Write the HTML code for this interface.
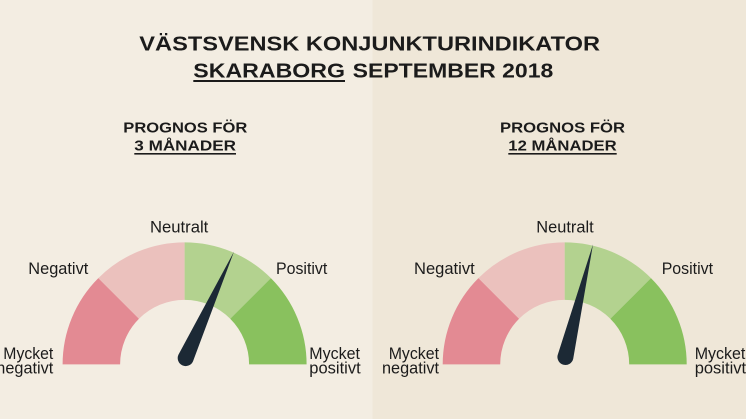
<!DOCTYPE html>
<html>
<head>
<meta charset="utf-8">
<style>
html,body{margin:0;padding:0;width:746px;height:419px;overflow:hidden;background:#f3ede2;}
svg{display:block;}
text{font-family:"Liberation Sans",sans-serif;fill:#1b1b1b;}
.b{font-weight:bold;}
</style>
</head>
<body>
<svg width="746" height="419" viewBox="0 0 746 419" xmlns="http://www.w3.org/2000/svg">
  <rect x="0" y="0" width="372.5" height="419" fill="#f3ede2"/>
  <rect x="372.5" y="0" width="373.5" height="419" fill="#efe7d8"/>

  <!-- Title -->
  <text class="b" x="139.3" y="50.7" font-size="20" textLength="460.7" lengthAdjust="spacingAndGlyphs">VÄSTSVENSK KONJUNKTURINDIKATOR</text>
  <text class="b" x="193.3" y="77.7" font-size="20" textLength="151.7" lengthAdjust="spacingAndGlyphs">SKARABORG</text>
  <rect x="193.3" y="80" width="151.7" height="2" fill="#1b1b1b"/>
  <text class="b" x="352.7" y="77.7" font-size="20" textLength="200.6" lengthAdjust="spacingAndGlyphs">SEPTEMBER 2018</text>

  <!-- Subtitles -->
  <text class="b" x="123.3" y="132.3" font-size="14.5" textLength="124" lengthAdjust="spacingAndGlyphs">PROGNOS FÖR</text>
  <text class="b" x="134.3" y="150.7" font-size="14.5" textLength="101.7" lengthAdjust="spacingAndGlyphs">3 MÅNADER</text>
  <rect x="134.3" y="153" width="101.7" height="1.6" fill="#1b1b1b"/>

  <text class="b" x="500" y="132.3" font-size="14.5" textLength="125" lengthAdjust="spacingAndGlyphs">PROGNOS FÖR</text>
  <text class="b" x="508.3" y="150.7" font-size="14.5" textLength="108.4" lengthAdjust="spacingAndGlyphs">12 MÅNADER</text>
  <rect x="508.3" y="153" width="108.4" height="1.6" fill="#1b1b1b"/>

  <!-- Left gauge -->
  <g transform="translate(184.6,364.4)">
    <path d="M-122,0 A122,122 0 0 1 -86.27,-86.27 L-45.61,-45.61 A64.5,64.5 0 0 0 -64.5,0 Z" fill="#e38a93"/>
    <path d="M-86.27,-86.27 A122,122 0 0 1 0,-122 L0,-64.5 A64.5,64.5 0 0 0 -45.61,-45.61 Z" fill="#ebc1bd"/>
    <path d="M0,-122 A122,122 0 0 1 86.27,-86.27 L45.61,-45.61 A64.5,64.5 0 0 0 0,-64.5 Z" fill="#b3d28f"/>
    <path d="M86.27,-86.27 A122,122 0 0 1 122,0 L64.5,0 A64.5,64.5 0 0 0 45.61,-45.61 Z" fill="#89c15e"/>
  </g>
  <g transform="translate(185.5,358.5) rotate(24.4)">
    <path d="M-8,-0.5 L0,-117.3 L8,-0.5 A8,8 0 0 1 -8,-0.5 Z" fill="#1c2935"/>
  </g>

  <text x="150" y="232.3" font-size="17" textLength="58.3" lengthAdjust="spacingAndGlyphs">Neutralt</text>
  <text x="28.3" y="274" font-size="17" textLength="60" lengthAdjust="spacingAndGlyphs">Negativt</text>
  <text x="276" y="274" font-size="17" textLength="51.3" lengthAdjust="spacingAndGlyphs">Positivt</text>
  <text x="3.3" y="359" font-size="17" textLength="50" lengthAdjust="spacingAndGlyphs">Mycket</text>
  <text x="-3.7" y="373.3" font-size="17" textLength="57" lengthAdjust="spacingAndGlyphs">negativt</text>
  <text x="309.3" y="359" font-size="17" textLength="50.7" lengthAdjust="spacingAndGlyphs">Mycket</text>
  <text x="309.3" y="373.3" font-size="17" textLength="51.4" lengthAdjust="spacingAndGlyphs">positivt</text>

  <!-- Right gauge -->
  <g transform="translate(564.7,364.4)">
    <path d="M-122,0 A122,122 0 0 1 -86.27,-86.27 L-45.61,-45.61 A64.5,64.5 0 0 0 -64.5,0 Z" fill="#e38a93"/>
    <path d="M-86.27,-86.27 A122,122 0 0 1 0,-122 L0,-64.5 A64.5,64.5 0 0 0 -45.61,-45.61 Z" fill="#ebc1bd"/>
    <path d="M0,-122 A122,122 0 0 1 86.27,-86.27 L45.61,-45.61 A64.5,64.5 0 0 0 0,-64.5 Z" fill="#b3d28f"/>
    <path d="M86.27,-86.27 A122,122 0 0 1 122,0 L64.5,0 A64.5,64.5 0 0 0 45.61,-45.61 Z" fill="#89c15e"/>
  </g>
  <g transform="translate(565.3,357.5) rotate(13.75)">
    <path d="M-8,-0.5 L0,-116.5 L8,-0.5 A8,8 0 0 1 -8,-0.5 Z" fill="#1c2935"/>
  </g>

  <text x="536.3" y="232.3" font-size="17" textLength="57.4" lengthAdjust="spacingAndGlyphs">Neutralt</text>
  <text x="414" y="274" font-size="17" textLength="60.7" lengthAdjust="spacingAndGlyphs">Negativt</text>
  <text x="661.7" y="274" font-size="17" textLength="51.3" lengthAdjust="spacingAndGlyphs">Positivt</text>
  <text x="388.7" y="359" font-size="17" textLength="50.3" lengthAdjust="spacingAndGlyphs">Mycket</text>
  <text x="382" y="373.3" font-size="17" textLength="57" lengthAdjust="spacingAndGlyphs">negativt</text>
  <text x="694.7" y="359" font-size="17" textLength="50.7" lengthAdjust="spacingAndGlyphs">Mycket</text>
  <text x="694.7" y="373.3" font-size="17" textLength="51.4" lengthAdjust="spacingAndGlyphs">positivt</text>
</svg>
</body>
</html>
